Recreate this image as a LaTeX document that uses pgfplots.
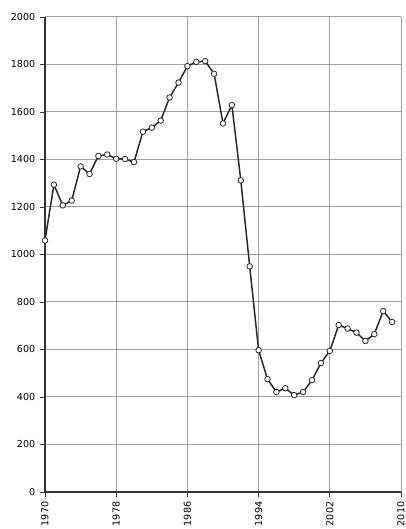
\documentclass[border=0pt]{standalone}
\usepackage{fontspec}
\setmainfont{DejaVu Sans}
\usepackage{pgfplots}
\pgfplotsset{compat=1.18}
\begin{document}
\begin{tikzpicture}
\begin{axis}[
  scale only axis,
  width=267pt, height=356.25pt,
  xmin=1970, xmax=2010, ymin=0, ymax=2000,
  xtick={1970,1978,...,2010},
  ytick={0,200,...,2000},
  axis lines=left,
  axis line style={black!80, line width=0.9pt, -},
  grid=major,
  major grid style={gray!75, line width=0.75pt},
  tick align=outside,
  major tick length=3.75pt,
  tick style={black!80, line width=0.7pt},
  font=\fontsize{7.2pt}{8.5pt}\selectfont,
  /pgf/number format/assume math mode=true,
  xticklabel style={rotate=90, anchor=east, /pgf/number format/1000 sep={}},
  yticklabel style={/pgf/number format/1000 sep={}},
  xticklabel={\pgfmathprintnumber[1000 sep={}]{\tick}},
  clip=false,
]
\addplot[black!85, line width=1.1pt, mark=*, mark size=2.1pt,
  mark options={fill=white, draw=black!85, line width=0.6pt}] coordinates {
(1970,1059) (1971,1294) (1972,1207) (1973,1227) (1974,1371) (1975,1339)
(1976,1415) (1977,1421) (1978,1403) (1979,1402) (1980,1389) (1981,1517)
(1982,1534) (1983,1564) (1984,1661) (1985,1724) (1986,1793) (1987,1811)
(1988,1814) (1989,1761) (1990,1552) (1991,1629) (1992,1312) (1993,950)
(1994,597) (1995,475) (1996,421) (1997,437) (1998,408) (1999,421)
(2000,471) (2001,543) (2002,594) (2003,703) (2004,688) (2005,671)
(2006,636) (2007,665) (2008,762) (2009,716)
};
\coordinate (sw) at (rel axis cs:0,0);
\coordinate (ne) at (rel axis cs:1,1);
\end{axis}
\pgfresetboundingbox
\path[use as bounding box] ([shift={(-33.75pt,-27.75pt)}]sw) rectangle ([shift={(3.75pt,12.75pt)}]ne);
\end{tikzpicture}
\end{document}
